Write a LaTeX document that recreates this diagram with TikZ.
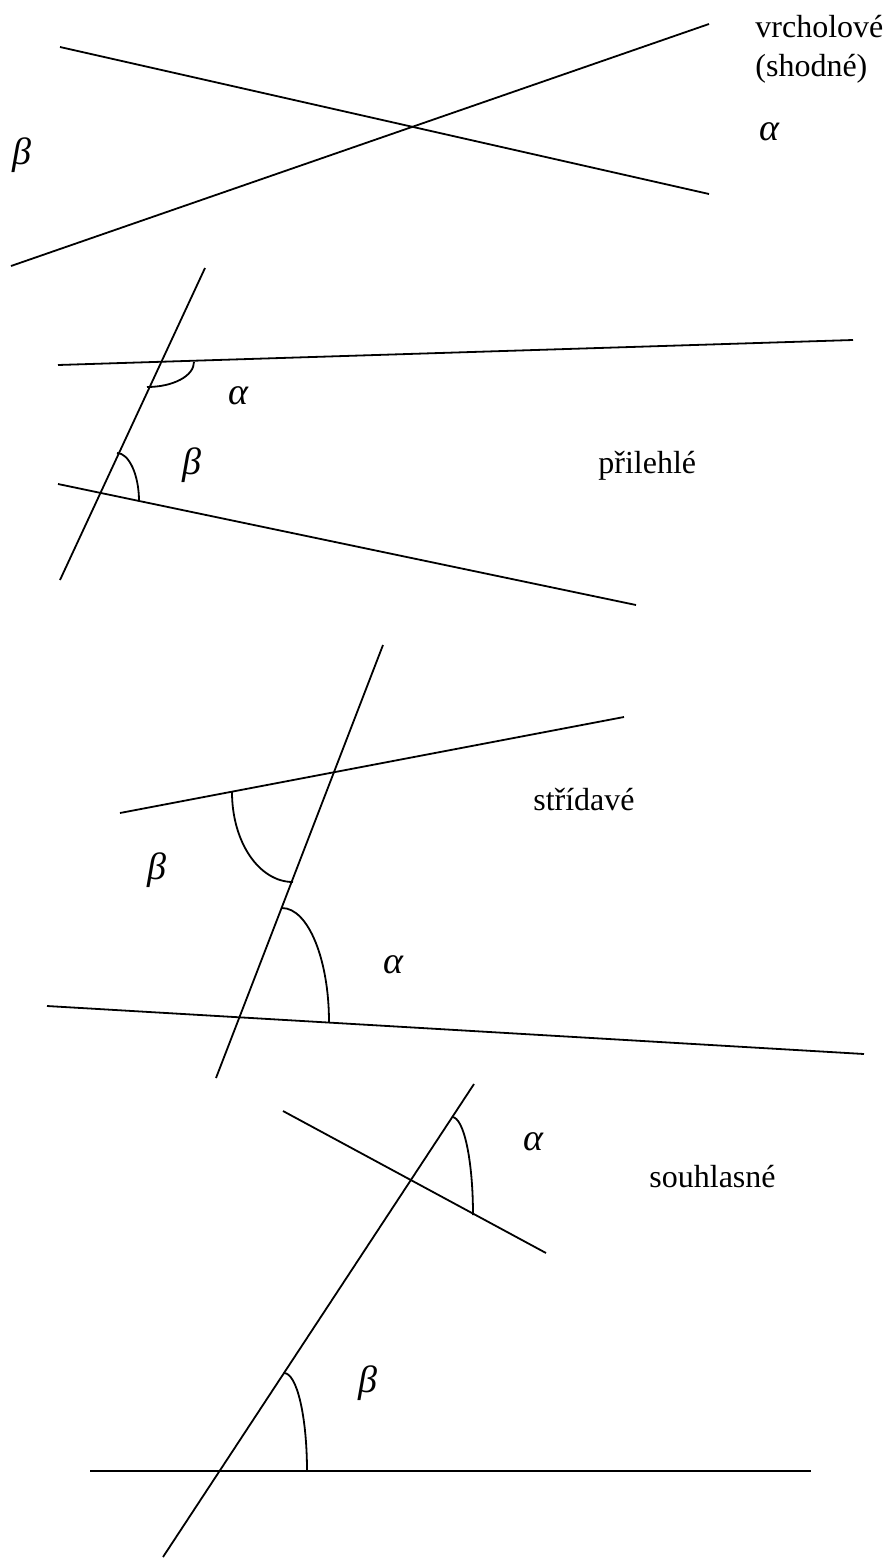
\documentclass[tikz,border=0pt]{standalone}
\usepackage{fontspec}
\setmainfont{Liberation Serif}
\tikzset{
  seg/.style={line width=0.9pt},
  word/.style={font=\fontsize{16}{19}\selectfont, inner sep=0pt},
  greek/.style={font=\fontsize{19}{22}\selectfont\itshape, inner sep=0pt}
}

\begin{document}
\begin{tikzpicture}[x=0.5pt, y=-0.5pt]
\useasboundingbox (0,0) rectangle (885,1558);
% vrcholove
\coordinate (a1) at (60,47);  \coordinate (a2) at (709,194);
\coordinate (b1) at (11,266); \coordinate (b2) at (709,24);
\draw[seg] (a1) -- (a2);
\draw[seg] (b1) -- (b2);
\node[greek] (alphaA) at (769,132) {α};
\node[greek] (betaA) at (22,155) {β};
\node[word, anchor=base west] (vrch) at (755,37) {vrcholové};
\node[word, anchor=base west] (shod) at (755,76) {(shodné)};
% prilehle
\coordinate (c1) at (58,365);  \coordinate (c2) at (853,340);
\coordinate (t1) at (205,268); \coordinate (t2) at (60,580);
\coordinate (d1) at (58,484);  \coordinate (d2) at (636,605);
\draw[seg] (c1) -- (c2);
\draw[seg] (t1) -- (t2);
\draw[seg] (d1) -- (d2);
\draw[seg] (194,362) .. controls (194,376) and (173,387) .. (147,387);
\draw[seg] (117,453) .. controls (129,453) and (139,475) .. (139,501);
\node[greek] (alphaB) at (238,396) {α};
\node[greek] (betaB) at (192,465) {β};
\node[word, anchor=base west] (pril) at (598,473) {přilehlé};
% stridave
\coordinate (e1) at (120,813); \coordinate (e2) at (624,717);
\coordinate (t3) at (383,645); \coordinate (t4) at (216,1078);
\coordinate (f1) at (47,1006); \coordinate (f2) at (864,1054);
\draw[seg] (e1) -- (e2);
\draw[seg] (t3) -- (t4);
\draw[seg] (f1) -- (f2);
\draw[seg] (232,792) .. controls (232,842) and (259,882) .. (293,882);
\draw[seg] (282,908) .. controls (308,908) and (329,959) .. (329,1022);
\node[greek] (betaC) at (157,870) {β};
\node[greek] (alphaC) at (393,965) {α};
\node[word, anchor=base east] (strid) at (635,810) {střídavé};
% souhlasne
\coordinate (g1) at (283,1111); \coordinate (g2) at (546,1253);
\coordinate (t5) at (474,1084); \coordinate (t6) at (163,1557);
\coordinate (h1) at (90,1471);  \coordinate (h2) at (811,1471);
\draw[seg] (g1) -- (g2);
\draw[seg] (t5) -- (t6);
\draw[seg] (h1) -- (h2);
\draw[seg] (452,1117) .. controls (464,1117) and (473,1161) .. (473,1215);
\draw[seg] (284,1373) .. controls (297,1373) and (307,1417) .. (307,1471);
\node[greek] (alphaD) at (533,1142) {α};
\node[greek] (betaD) at (368,1383) {β};
\node[word, anchor=base west] (souh) at (649,1187) {souhlasné};
\end{tikzpicture}
\end{document}
